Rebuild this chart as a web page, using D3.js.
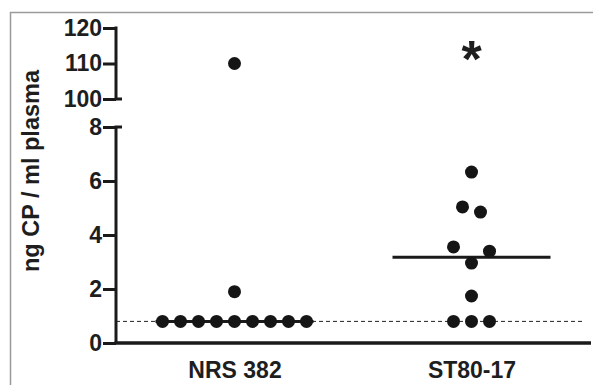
<!DOCTYPE html>
<html>
<head>
<meta charset="utf-8">
<script src="https://cdn.jsdelivr.net/npm/d3@7"></script>
<style>
  html, body { margin: 0; padding: 0; background: #fff; }
  svg { display: block; }
  text { font-family: "Liberation Sans", Arial, Helvetica, sans-serif; font-weight: bold; fill: #1e1e1e; }
</style>
</head>
<body>
<div id="chart"></div>
<script>
const categories = ['NRS 382', 'ST80-17'];
const nrsValues = [0.8, 0.8, 0.8, 0.8, 0.8, 0.8, 0.8, 0.8, 0.8, 1.9, 110];
const nrsSlots  = [-4, -3, -2, -1, 0, 1, 2, 3, 4, 0, 0];
const stValues  = [6.33, 5.04, 4.85, 3.56, 3.4, 2.96, 1.74, 0.8, 0.8, 0.8];
const stSlots   = [0, -0.5, 0.5, -1, 1, 0, 0, -1, 0, 1];
const lowTicks  = [0, 2, 4, 6, 8];
const highTicks = [100, 110, 120];
const detectionLimit = 0.8;
const marks = ['', '*'];

const width = 593, height = 385;
const axisX = 116;

const svg = d3.select('#chart').append('svg')
    .attr('width', width)
    .attr('height', height);

// frame
svg.append('path')
    .attr('d', `M10.5,${height} V12.5 H${width}`)
    .attr('fill', 'none')
    .attr('stroke', '#9a9a9a')
    .attr('stroke-width', 1.5);

const x = d3.scalePoint().domain(categories).range([axisX, 590]).padding(0.5);
const yLow = d3.scaleLinear().domain([0, 8]).range([343, 127]);
const yHigh = d3.scaleLinear().domain([100, 120]).range([99, 28]);
const y = v => v >= 100 ? yHigh(v) : yLow(v);
const step = 18;

const groups = [
    { name: categories[0], values: nrsValues, slots: nrsSlots },
    { name: categories[1], values: stValues, slots: stSlots }
];

// y axes (broken)
[[yLow, lowTicks], [yHigh, highTicks]].forEach(([scale, ticks]) => {
    const g = svg.append('g')
        .attr('transform', `translate(${axisX},0)`)
        .call(d3.axisLeft(scale).tickValues(ticks).tickSize(13).tickPadding(1));
    g.select('.domain').remove();
    g.selectAll('line').attr('stroke', '#1a1a1a').attr('stroke-width', 3);
    g.selectAll('text')
        .attr('font-size', 23)
        .attr('font-family', '"Liberation Sans", Arial, sans-serif')
        .attr('font-weight', 'bold')
        .attr('fill', '#1e1e1e');
});

svg.append('path')
    .attr('d', `M${axisX},${yHigh(120) - 1.5} V${yHigh(100)} H${axisX + 6}`)
    .attr('fill', 'none').attr('stroke', '#1a1a1a').attr('stroke-width', 3);
svg.append('path')
    .attr('d', `M${axisX + 6},${yLow(8)} H${axisX} V${yLow(0)}`)
    .attr('fill', 'none').attr('stroke', '#1a1a1a').attr('stroke-width', 3);

// x axis
const xg = svg.append('g')
    .attr('transform', `translate(0,${yLow(0)})`)
    .call(d3.axisBottom(x).tickSize(0).tickPadding(19));
xg.select('.domain')
    .attr('d', `M${axisX - 1.5},0 H591`)
    .attr('stroke', '#1a1a1a').attr('stroke-width', 3.5);
xg.selectAll('text')
    .attr('font-size', 23)
    .attr('font-family', '"Liberation Sans", Arial, sans-serif')
    .attr('font-weight', 'bold')
    .attr('fill', '#1e1e1e');

// detection limit
svg.append('line')
    .attr('x1', axisX).attr('x2', 585)
    .attr('y1', yLow(detectionLimit)).attr('y2', yLow(detectionLimit))
    .attr('stroke', '#222').attr('stroke-width', 1)
    .attr('stroke-dasharray', '4,3');

// medians
groups.forEach(gr => {
    const m = d3.median(gr.values);
    svg.append('line')
        .attr('x1', x(gr.name) - 79).attr('x2', x(gr.name) + 79)
        .attr('y1', y(m)).attr('y2', y(m))
        .attr('stroke', '#1a1a1a').attr('stroke-width', 3);
});

// points
groups.forEach(gr => {
    svg.append('g').selectAll('circle')
        .data(gr.values.map((v, i) => ({ v, s: gr.slots[i] })))
        .enter().append('circle')
        .attr('cx', d => x(gr.name) + d.s * step)
        .attr('cy', d => y(d.v))
        .attr('r', 6.5)
        .attr('fill', '#151515');
});

// significance
svg.selectAll('.mark')
    .data(categories)
    .enter().append('text')
    .attr('class', 'mark')
    .attr('x', d => x(d))
    .attr('y', 77)
    .attr('text-anchor', 'middle')
    .attr('font-size', 52)
    .text((d, i) => marks[i]);

// y label
svg.append('text')
    .attr('transform', 'translate(39,171) rotate(-90)')
    .attr('text-anchor', 'middle')
    .attr('font-size', 23.5)
    .text('ng CP / ml plasma');
</script>
</body>
</html>
